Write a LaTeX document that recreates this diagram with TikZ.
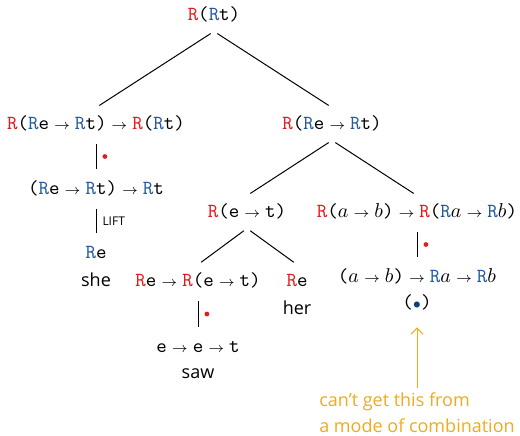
\documentclass[tikz,border=0pt]{standalone}
\usepackage{fontspec}
\setsansfont{Open Sans}
\usepackage{tikz}
\usetikzlibrary{arrows.meta,positioning}

\definecolor{tyred}{RGB}{228,26,28}
\definecolor{tyblue}{RGB}{35,90,160}
\definecolor{dotblue}{RGB}{20,60,120}
\definecolor{noteorange}{RGB}{240,170,30}

\newcommand{\Rred}{\textcolor{tyred}{R}}
\newcommand{\Rblu}{\textcolor{tyblue}{R}}
\newcommand{\ra}{\hspace{2.5pt}$\scriptstyle\rightarrow$\hspace{2.5pt}}

\begin{document}
\begin{tikzpicture}[x=0.5pt,y=-0.5pt,
  ty/.style={font=\ttfamily,text height=7.5pt,text depth=2.5pt,inner sep=3pt},
  word/.style={font=\sffamily\fontsize{9}{11}\selectfont,inner sep=1pt},
  branch/.style={line width=0.5pt,shorten <=2pt,shorten >=2pt},
  reddot/.style={circle,fill=tyred,inner sep=0pt,minimum size=2.4pt}]
  \useasboundingbox (0,0) rectangle (520,435);
  % root and first split
  \node[ty] (top) at (214,15) {\Rred(\Rblu t)};
  \node[ty] (subj) at (96,124) {\Rred(\Rblu e\ra\Rblu t)\ra\Rred(\Rblu t)};
  \node[ty] (vp) at (332,124) {\Rred(\Rblu e\ra\Rblu t)};
  \draw[branch] (top.south) -- (subj.north); \draw[branch] (top.south) -- (vp.north);
  % subject: she
  \node[ty] (lifted) at (96,189) {(\Rblu e\ra\Rblu t)\ra\Rblu t};
  \node[ty] (she) at (96,253) {\Rblu e};
  \node[word] at (96,280) {she};
  \draw[branch] (subj.south) -- (lifted.north) node[midway,right=3pt,reddot]{};
  \draw[branch] (lifted.south) -- (she.north)
    node[midway,right=3pt,inner sep=0pt,font=\sffamily\fontsize{6}{7}\selectfont]{LIFT};
  % verb phrase
  \node[ty] (vbar) at (247,212) {\Rred(e\ra t)};
  \node[ty] (map) at (417,212) {\Rred($a$\ra$b$)\ra\Rred(\Rblu$a$\ra\Rblu$b$)};
  \draw[branch] (vp.south) -- (vbar.north); \draw[branch] (vp.south) -- (map.north);
  \node[ty] (sawR) at (198,281) {\Rred e\ra\Rred(e\ra t)};
  \node[ty] (her) at (297,281) {\Rred e};
  \node[word] at (297,308) {her};
  \draw[branch] (vbar.south) -- (sawR.north); \draw[branch] (vbar.south) -- (her.north);
  \node[ty] (saw) at (198,347) {e\ra e\ra t};
  \node[word] at (198,374) {saw};
  \draw[branch] (sawR.south) -- (saw.north) node[midway,right=3pt,reddot]{};
  % the map itself
  \node[ty] (fmap) at (417,277) {($a$\ra$b$)\ra\Rblu$a$\ra\Rblu$b$};
  \node[ty] (bul) at (417,303) {(\textcolor{dotblue}{$\scriptstyle\bullet$})};
  \draw[branch] (map.south) -- (fmap.north) node[midway,right=3pt,reddot]{};
  % comment
  \node[anchor=north,inner sep=2pt,align=left,text=noteorange,
    font=\sffamily\fontsize{9}{13}\selectfont] (note) at (417,388)
    {can’t get this from\\a mode of combination};
  \draw[noteorange,line width=0.5pt,-{Straight Barb[length=3pt,width=6pt]},shorten >=4pt] (note) -- (bul);
\end{tikzpicture}
\end{document}
